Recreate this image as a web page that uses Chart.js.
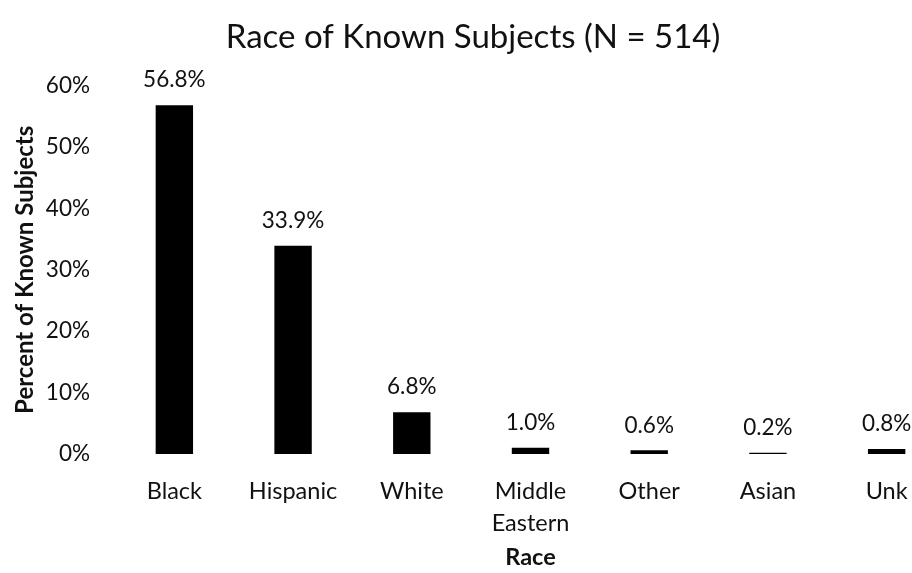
<!DOCTYPE html>
<html>
<head>
<meta charset="utf-8">
<script src="https://cdn.jsdelivr.net/npm/chart.js@4.4.1/dist/chart.umd.min.js"></script>
<style>
  html, body { margin: 0; padding: 0; background: #fff; overflow: hidden; }
  #wrap { width: 948px; height: 573px; }
</style>
</head>
<body>
<div id="wrap"><canvas id="c" width="948" height="573"></canvas></div>
<script>
// Categories and their share of known subjects (percent)
const races = ["Black", "Hispanic", "White", ["Middle", "Eastern"], "Other", "Asian", "Unk"];
const percents = [56.8, 33.9, 6.8, 1.0, 0.6, 0.2, 0.8];
const yTicks = [0, 10, 20, 30, 40, 50, 60];

const FONT = "Lato, 'Open Sans', sans-serif";

// Writes each bar's value just above it
const valueLabels = {
  id: "valueLabels",
  afterDatasetsDraw(chart) {
    const ctx = chart.ctx;
    const meta = chart.getDatasetMeta(0);
    ctx.save();
    ctx.font = "22.5px " + FONT;
    ctx.fillStyle = "#111";
    ctx.textAlign = "center";
    ctx.textBaseline = "middle";
    meta.data.forEach((bar, i) => {
      const v = chart.data.datasets[0].data[i];
      ctx.fillText(v.toFixed(1) + "%", bar.x, bar.y - 25);
    });
    ctx.restore();
  }
};

new Chart(document.getElementById("c"), {
  type: "bar",
  data: {
    labels: races,
    datasets: [{
      data: percents,
      backgroundColor: "#000",
      borderWidth: 0,
      barPercentage: 0.63,
      categoryPercentage: 0.5
    }]
  },
  options: {
    responsive: false,
    animation: false,
    layout: { padding: { left: 0, right: 2, top: 18, bottom: 0 } },
    plugins: {
      legend: { display: false },
      tooltip: { enabled: false },
      title: {
        display: true,
        text: "Race of Known Subjects (N = 514)",
        color: "#111",
        font: { family: FONT, size: 33, weight: "normal", lineHeight: 1.2 },
        padding: { top: 0, bottom: 28 }
      }
    },
    scales: {
      x: {
        // fixed band under the plot for the labels and the axis title
        afterFit(scale) { scale.height = 119; },
        grid: { display: false, drawTicks: false },
        border: { display: false },
        ticks: {
          color: "#111",
          font: { family: FONT, size: 23.5, lineHeight: 1.36 },
          padding: 21,
          maxRotation: 0,
          autoSkip: false
        },
        title: {
          display: true,
          text: "Race",
          color: "#111",
          font: { family: FONT, size: 23.5, weight: "bold", lineHeight: 1.2 },
          padding: { top: 6, bottom: 1 }
        }
      },
      y: {
        min: 0,
        max: 60,
        // fixed gutter left of the plot for tick labels and the axis title
        afterFit(scale) { scale.width = 115; },
        afterBuildTicks(scale) {
          scale.ticks = yTicks.map(v => ({ value: v }));
        },
        grid: { display: false, drawTicks: false },
        border: { display: false },
        ticks: {
          color: "#111",
          font: { family: FONT, size: 22.5 },
          padding: 25,
          callback: v => v + "%"
        },
        title: {
          display: true,
          text: "Percent of Known Subjects",
          color: "#111",
          font: { family: FONT, size: 24, weight: "bold", lineHeight: 1.2 },
          padding: { top: 11, bottom: 0 }
        }
      }
    }
  },
  plugins: [valueLabels]
});
</script>
</body>
</html>
